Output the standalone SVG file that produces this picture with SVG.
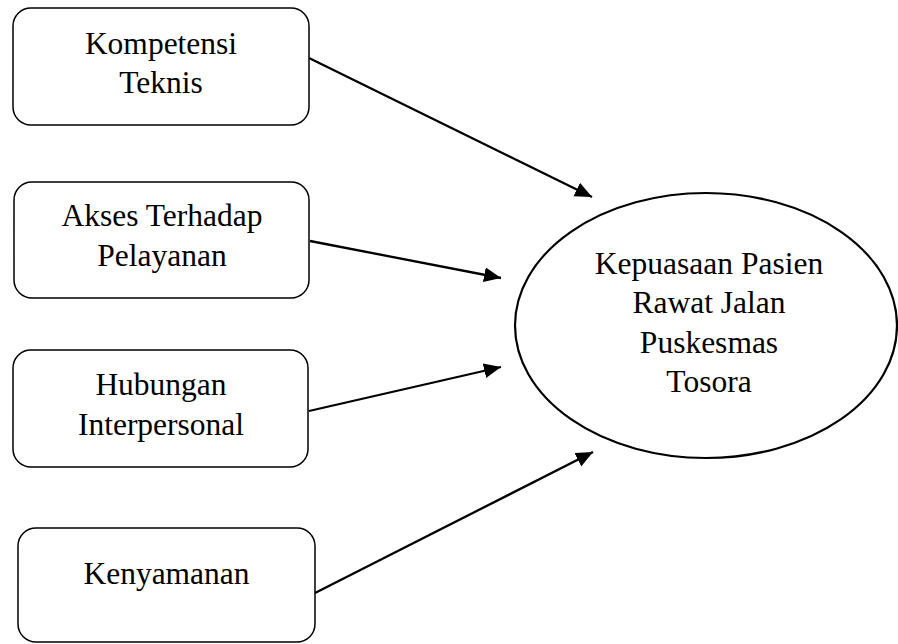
<svg xmlns="http://www.w3.org/2000/svg" width="898" height="644" viewBox="0 0 898 644">
<style>
.box{fill:#fff;stroke:#000;stroke-width:1.5}
.ell{fill:#fff;stroke:#000;stroke-width:2.2}
.lbl{font-family:"Liberation Serif","Times New Roman",serif;font-size:31.5px;fill:#000;text-anchor:middle}
.con{stroke:#000;stroke-width:2.3;fill:none}
</style>
<defs>
<marker id="ah" markerUnits="userSpaceOnUse" markerWidth="18" markerHeight="16" refX="17" refY="7.5" orient="auto">
<path d="M0,0 L17,7.5 L0,15 Z" fill="#000"/>
</marker>
</defs>
<rect width="898" height="644" fill="#fff"/>
<g id="n1">
<rect class="box" x="13" y="8" width="296" height="117" rx="18"/>
<text class="lbl" x="161" y="54">Kompetensi</text>
<text class="lbl" x="161" y="93">Teknis</text>
</g>
<g id="n2">
<rect class="box" x="14" y="182" width="295" height="116" rx="18"/>
<text class="lbl" x="162" y="226">Akses Terhadap</text>
<text class="lbl" x="162" y="265.5">Pelayanan</text>
</g>
<g id="n3">
<rect class="box" x="13" y="350" width="295" height="117" rx="18"/>
<text class="lbl" x="161" y="395">Hubungan</text>
<text class="lbl" x="161" y="435">Interpersonal</text>
</g>
<g id="n4">
<rect class="box" x="18" y="528" width="297" height="114" rx="18"/>
<text class="lbl" x="166.5" y="584">Kenyamanan</text>
</g>
<g id="n5">
<ellipse class="ell" cx="706" cy="325.5" rx="191" ry="132.5"/>
<text class="lbl" x="709" y="274">Kepuasaan Pasien</text>
<text class="lbl" x="709" y="313.3">Rawat Jalan</text>
<text class="lbl" x="709" y="352.6">Puskesmas</text>
<text class="lbl" x="709" y="392">Tosora</text>
</g>
<g id="connectors">
<path class="con" d="M309,58 L592,197" marker-end="url(#ah)"/>
<path class="con" d="M310,241 L501,278" marker-end="url(#ah)"/>
<path class="con" d="M309,411 L501,367" marker-end="url(#ah)"/>
<path class="con" d="M315,593 L593,452" marker-end="url(#ah)"/>
</g>
</svg>
